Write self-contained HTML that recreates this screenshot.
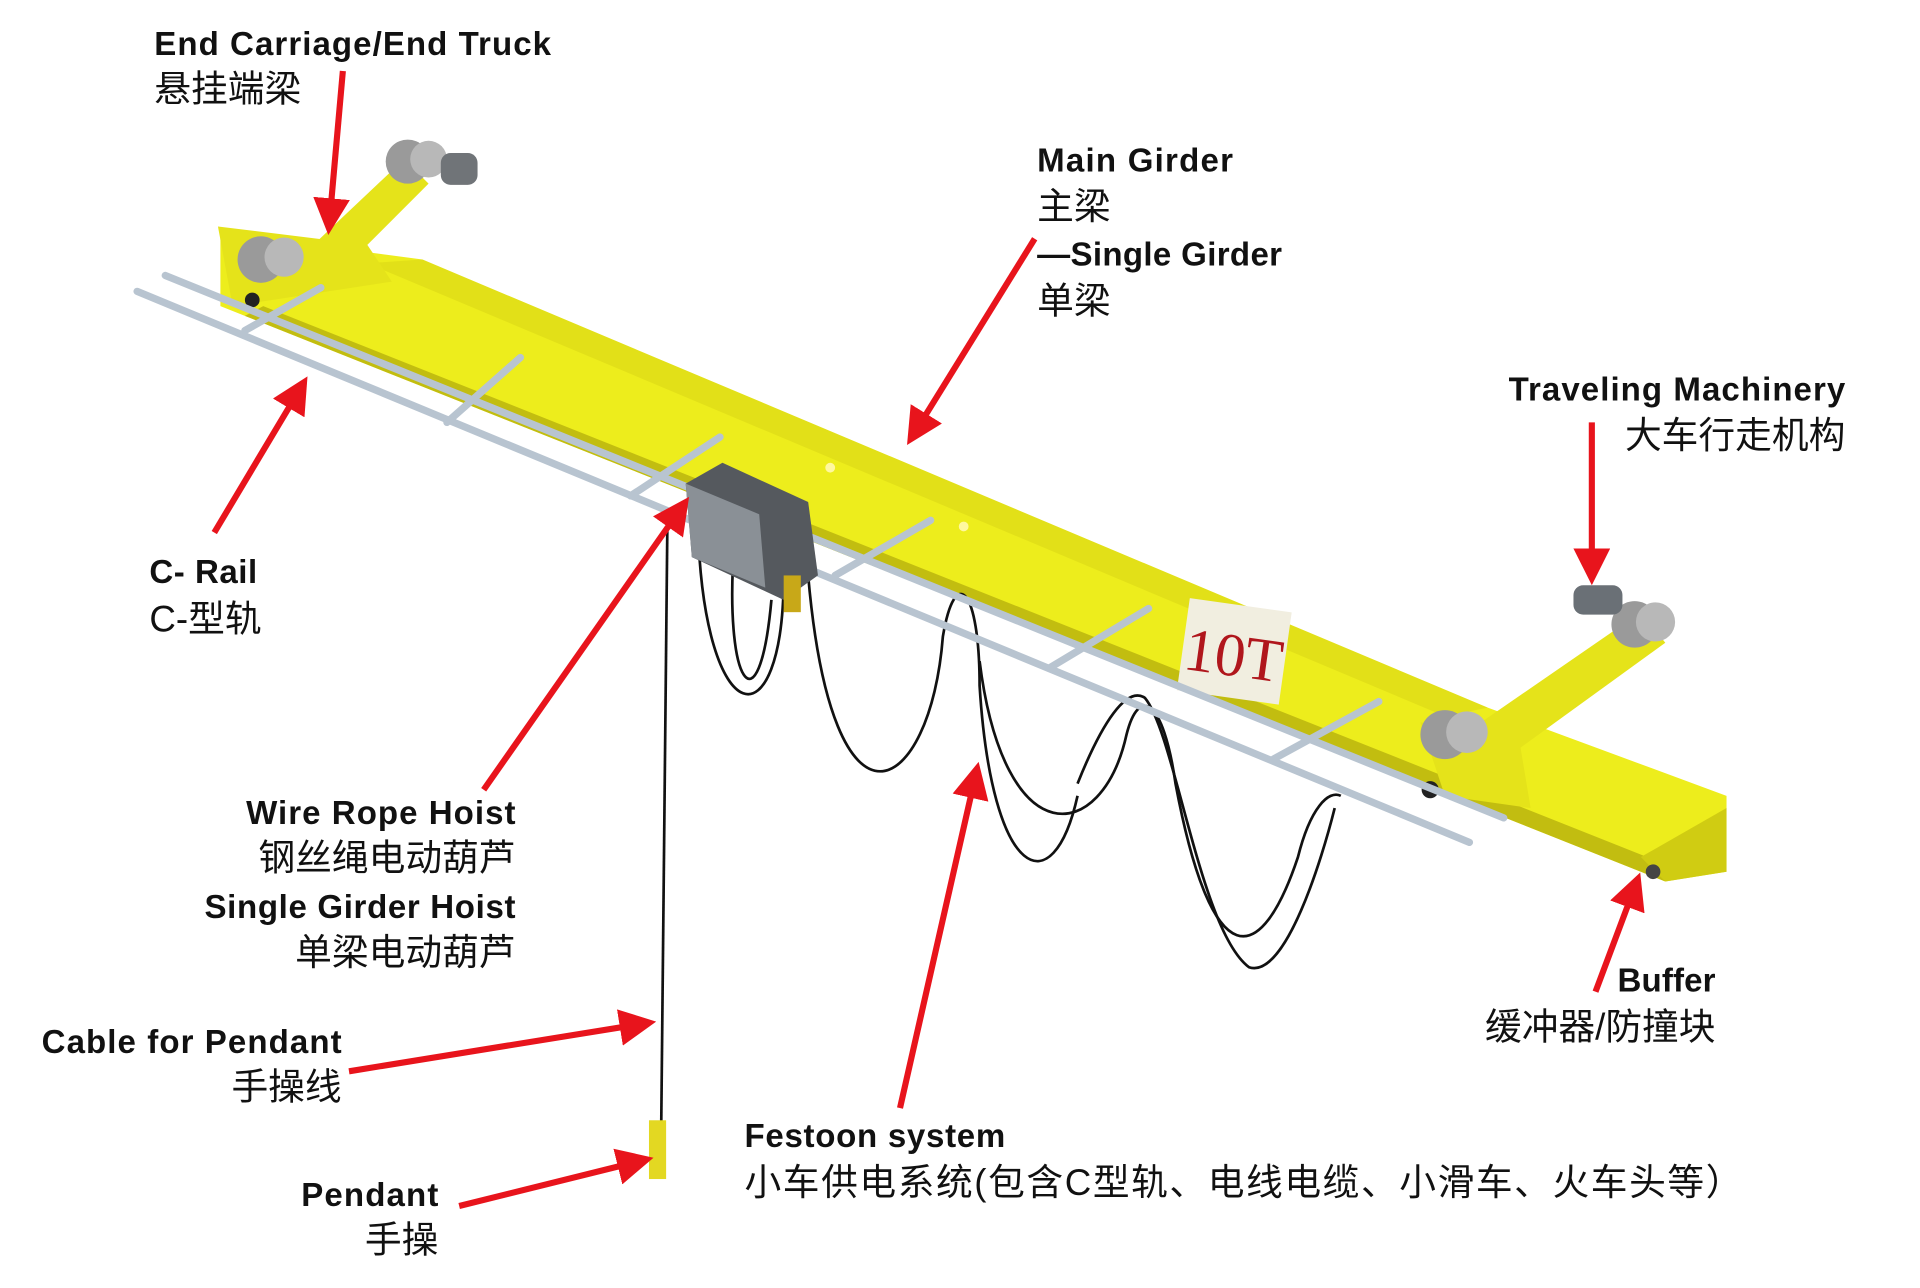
<!DOCTYPE html>
<html><head><meta charset="utf-8"><style>
html,body{margin:0;padding:0;background:#fff;}
svg{display:block;}
.en{font-family:"Liberation Sans Narrow","Liberation Sans",sans-serif;font-weight:bold;font-size:27px;fill:#111;}
.cn{font-family:"Liberation Sans","Noto Sans CJK SC",sans-serif;font-size:30px;fill:#111;}
</style></head><body>
<svg width="1920" height="1288" viewBox="0 0 1568 1052" preserveAspectRatio="none" xmlns="http://www.w3.org/2000/svg">
<defs>
<marker id="ah" markerWidth="6" markerHeight="6" refX="4" refY="3" orient="auto" markerUnits="strokeWidth">
<path d="M0,0 L6,3 L0,6 z" fill="#e8141c"/></marker>
</defs>
<!-- girder -->
<polygon points="180,190 345,212 1215,578 1410,650 1410,712 1360,720 1340,712 200,258 180,250" fill="#eded1c"/>
<polygon points="215,250 1345,700 1360,720 1340,712 200,258" fill="#c2bd10"/>
<polygon points="1340,700 1410,660 1410,712 1360,720" fill="#d0cc12"/>
<polygon points="300,215 345,212 1215,578 1180,585" fill="#d8d414" opacity="0.5"/>
<circle cx="678" cy="382" r="4" fill="#fff8a0"/><circle cx="787" cy="430" r="4" fill="#fff8a0"/>
<!-- 10T plate -->
<g transform="translate(1008,532) rotate(8)">
<rect x="-42" y="-38" width="84" height="76" fill="#f1eee0"/>
<text x="0" y="20" text-anchor="middle" font-family="Liberation Serif,serif" font-size="50" fill="#b0161c">10T</text></g>
<!-- left end carriage -->
<polygon points="240,215 330,130 350,150 265,235" fill="#e5e31a"/>
<polygon points="178,185 300,200 320,230 190,250" fill="#e5e31a"/>
<circle cx="213" cy="212" r="19" fill="#9a9a9a"/><circle cx="232" cy="210" r="16" fill="#b8b8b8"/>
<circle cx="333" cy="132" r="18" fill="#9a9a9a"/><circle cx="350" cy="130" r="15" fill="#b8b8b8"/>
<rect x="360" y="125" width="30" height="26" rx="8" fill="#707478"/>
<circle cx="206" cy="245" r="6" fill="#222"/>
<!-- right end carriage -->
<polygon points="1195,600 1340,500 1360,525 1215,630" fill="#e5e31a"/>
<polygon points="1160,590 1240,600 1250,660 1180,650" fill="#e5e31a"/>
<circle cx="1180" cy="600" r="20" fill="#9a9a9a"/><circle cx="1198" cy="598" r="17" fill="#b8b8b8"/>
<circle cx="1335" cy="510" r="19" fill="#9a9a9a"/><circle cx="1352" cy="508" r="16" fill="#b8b8b8"/>
<rect x="1285" y="478" width="40" height="24" rx="8" fill="#6a7076"/>
<circle cx="1168" cy="645" r="7" fill="#222"/>
<circle cx="1350" cy="712" r="6" fill="#444"/>
<!-- festoon cables -->
<g fill="none" stroke="#111" stroke-width="2.2">
<path d="M570,430 C575,600 640,610 640,470"/>
<path d="M600,440 C590,560 620,600 630,490"/>
<path d="M660,470 C680,700 760,650 770,520 C780,460 800,480 800,560 C810,720 860,740 880,650"/>
<path d="M800,540 C820,700 900,690 920,600 C930,560 950,570 960,640 C990,800 1030,790 1060,700 C1070,660 1085,645 1095,650"/>
<path d="M880,640 C900,590 920,560 935,570 C960,600 980,760 1020,790 C1050,800 1080,700 1090,660"/>
<path d="M545,430 L540,920"/>
</g>
<rect x="530" y="915" width="14" height="48" fill="#e3d822"/>
<!-- C-rail -->
<g stroke="#b8c4d0" stroke-width="6" stroke-linecap="round">
<line x1="112" y1="238" x2="1200" y2="688"/>
<line x1="135" y1="225" x2="1228" y2="668"/>
<line x1="200" y1="270" x2="262" y2="235"/>
<line x1="365" y1="345" x2="425" y2="292"/>
<line x1="515" y1="405" x2="588" y2="357"/>
<line x1="682" y1="470" x2="760" y2="425"/>
<line x1="858" y1="545" x2="938" y2="497"/>
<line x1="1040" y1="620" x2="1126" y2="573"/>
</g>
<!-- hoist -->
<polygon points="560,395 590,378 660,410 668,470 640,490 565,455" fill="#55595e"/>
<polygon points="560,395 620,420 625,480 565,455" fill="#8a9096"/>
<rect x="640" y="470" width="14" height="30" fill="#c8a818"/>
<!-- arrows -->
<g stroke="#e8141c" stroke-width="5" fill="none" marker-end="url(#ah)">
<line x1="280" y1="58" x2="269" y2="182"/>
<line x1="845" y1="195" x2="746" y2="355"/>
<line x1="1300" y1="345" x2="1300" y2="468"/>
<line x1="175" y1="435" x2="246" y2="316"/>
<line x1="395" y1="645" x2="557" y2="414"/>
<line x1="1303" y1="810" x2="1336" y2="722"/>
<line x1="735" y1="905" x2="797" y2="632"/>
<line x1="285" y1="875" x2="526" y2="836"/>
<line x1="375" y1="985" x2="524" y2="948"/>
</g>
<!-- labels -->
<text class="en" x="126" y="45" textLength="324">End Carriage/End Truck</text>
<text class="cn" x="126" y="83">悬挂端梁</text>
<text class="en" x="847" y="140" textLength="160">Main Girder</text>
<text class="cn" x="847" y="179">主梁</text>
<text class="en" x="847" y="217" textLength="200">—Single Girder</text>
<text class="cn" x="847" y="256">单梁</text>
<text class="en" x="1232" y="327" textLength="275">Traveling Machinery</text>
<text class="cn" x="1507" y="366" text-anchor="end">大车行走机构</text>
<text class="en" x="122" y="476" textLength="88">C- Rail</text>
<text class="cn" x="122" y="516">C-型轨</text>
<text class="en" x="201" y="673" textLength="220">Wire Rope Hoist</text>
<text class="cn" x="421" y="711" text-anchor="end">钢丝绳电动葫芦</text>
<text class="en" x="167" y="750" textLength="254">Single Girder Hoist</text>
<text class="cn" x="421" y="788" text-anchor="end">单梁电动葫芦</text>
<text class="en" x="34" y="860" textLength="245">Cable for Pendant</text>
<text class="cn" x="279" y="898" text-anchor="end">手操线</text>
<text class="en" x="246" y="985" textLength="112">Pendant</text>
<text class="cn" x="358" y="1023" text-anchor="end">手操</text>
<text class="en" x="608" y="937" textLength="213">Festoon system</text>
<text class="cn" x="608" y="976" textLength="815">小车供电系统(包含C型轨、电线电缆、小滑车、火车头等）</text>
<text class="en" x="1321" y="810" textLength="80">Buffer</text>
<text class="cn" x="1401" y="849" text-anchor="end">缓冲器/防撞块</text>
</svg>
</body></html>
